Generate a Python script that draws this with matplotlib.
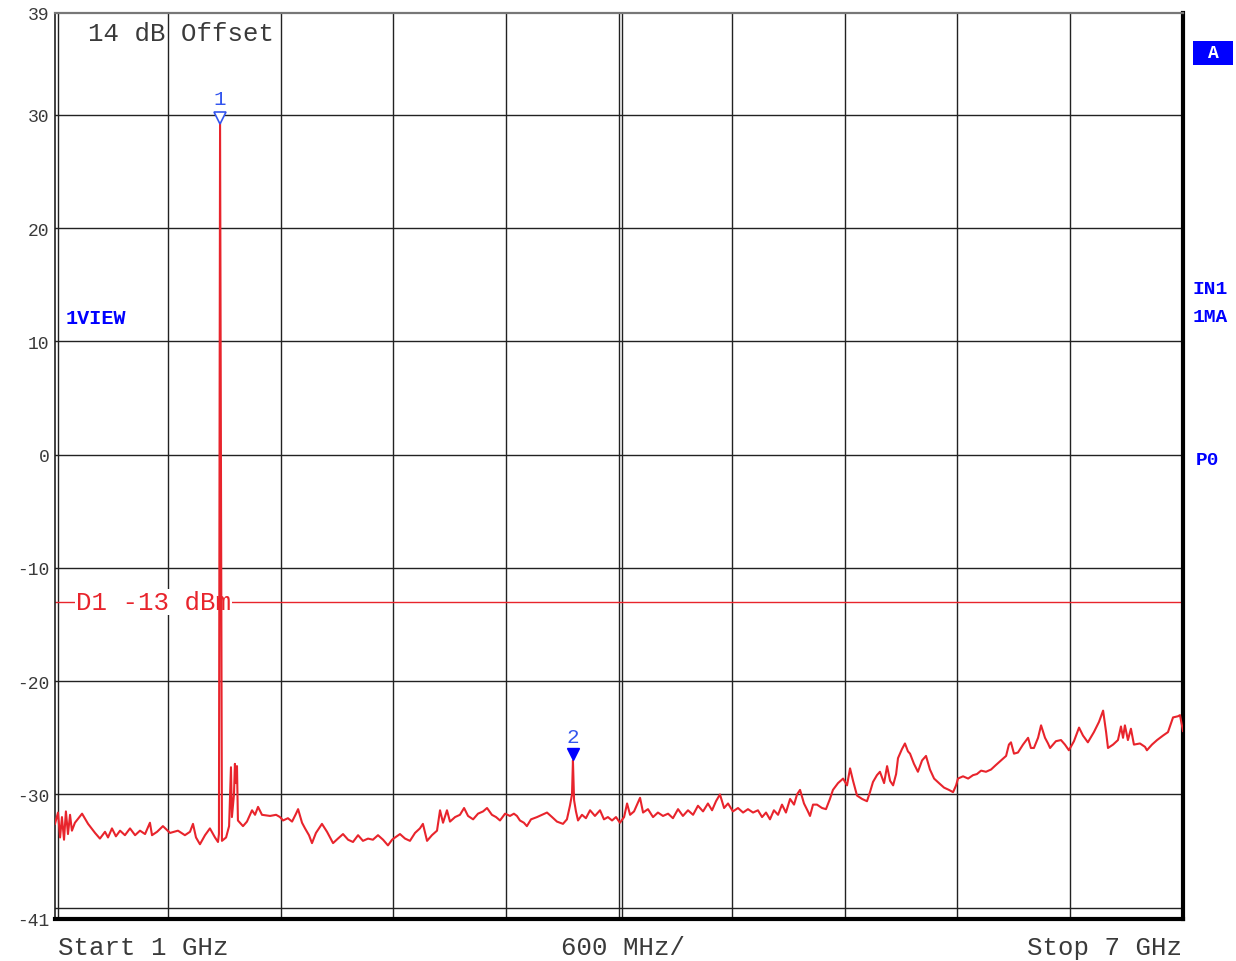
"""Спектр: трасса анализатора 1-7 ГГц с маркерами и линией D1."""

import numpy as np
import matplotlib
matplotlib.use("Agg")
import matplotlib.pyplot as plt
from matplotlib.patches import Rectangle

# частота, МГц
freq_mhz = [
    1000, 1016, 1027, 1037, 1048, 1058, 1069, 1080, 1090, 1106, 1144, 1176,
    1213, 1239, 1266, 1282, 1303, 1324, 1346, 1372, 1399, 1426, 1452, 1479,
    1505, 1516, 1543, 1574, 1612, 1654, 1691, 1718, 1734, 1750, 1771, 1798,
    1824, 1851, 1867, 1872, 1878, 1883, 1888, 1910, 1926, 1936, 1941, 1952,
    1957, 1963, 1968, 1973, 2000, 2021, 2048, 2064, 2080, 2101, 2144, 2176,
    2197, 2213, 2239, 2261, 2282, 2293, 2314, 2330, 2351, 2367, 2388, 2420,
    2447, 2479, 2505, 2532, 2559, 2585, 2612, 2638, 2665, 2691, 2718, 2745,
    2771, 2793, 2809, 2835, 2862, 2888, 2915, 2941, 2957, 2979, 3005, 3032,
    3048, 3064, 3085, 3101, 3128, 3154, 3176, 3197, 3224, 3250, 3277, 3298,
    3324, 3346, 3367, 3394, 3420, 3441, 3457, 3473, 3494, 3510, 3532, 3564,
    3590, 3617, 3644, 3670, 3702, 3723, 3739, 3750, 3755, 3761, 3771, 3782,
    3803, 3824, 3846, 3872, 3899, 3920, 3941, 3963, 3984, 4005, 4027, 4043,
    4059, 4080, 4112, 4128, 4154, 4181, 4207, 4234, 4261, 4287, 4314, 4340,
    4367, 4394, 4420, 4447, 4473, 4495, 4516, 4537, 4559, 4580, 4606, 4633,
    4660, 4686, 4713, 4739, 4761, 4782, 4803, 4824, 4846, 4867, 4888, 4910,
    4931, 4947, 4963, 4984, 5005, 5016, 5032, 5053, 5080, 5101, 5122, 5138,
    5165, 5192, 5213, 5229, 5245, 5266, 5293, 5319, 5335, 5351, 5372, 5388,
    5410, 5426, 5442, 5458, 5474, 5484, 5505, 5521, 5537, 5548, 5569, 5590,
    5612, 5633, 5654, 5676, 5702, 5729, 5755, 5777, 5793, 5803, 5830, 5857,
    5883, 5904, 5926, 5952, 5979, 6005, 6032, 6059, 6074, 6085, 6101, 6122,
    6149, 6176, 6191, 6207, 6229, 6245, 6266, 6282, 6293, 6324, 6351, 6372,
    6393, 6420, 6447, 6468, 6494, 6526, 6553, 6575, 6591, 6601, 6628, 6654,
    6670, 6681, 6691, 6707, 6723, 6739, 6771, 6798, 6808, 6835, 6862, 6894,
    6920, 6947, 6973, 6984, 7000,
]
# уровень, дБм
level_dbm = [
    -32.6, -31.6, -33.8, -32.0, -34.0, -31.5, -33.5, -31.8, -33.2, -32.5, -31.7, -32.6,
    -33.4, -33.9, -33.3, -33.8, -33.0, -33.7, -33.2, -33.6, -33.0, -33.6, -33.2, -33.5,
    -32.5, -33.6, -33.3, -32.8, -33.4, -33.2, -33.6, -33.3, -32.6, -33.8, -34.4, -33.6,
    -33.0, -33.8, -34.2, -33.5, 29.3, -2.7, -34.1, -33.8, -32.8, -27.6, -32.0, -30.0,
    -27.3, -29.0, -27.5, -32.3, -32.8, -32.4, -31.4, -31.8, -31.1, -31.8, -31.9, -31.8,
    -32.0, -32.3, -32.1, -32.4, -31.7, -31.3, -32.5, -33.0, -33.6, -34.3, -33.4, -32.6,
    -33.3, -34.3, -33.9, -33.5, -34.0, -34.2, -33.6, -34.1, -33.9, -34.0, -33.6, -34.0,
    -34.5, -34.0, -33.8, -33.5, -33.9, -34.1, -33.4, -33.0, -32.6, -34.1, -33.6, -33.2,
    -31.4, -32.5, -31.4, -32.4, -32.0, -31.8, -31.2, -31.9, -32.2, -31.7, -31.5, -31.2,
    -31.8, -32.0, -32.3, -31.7, -31.9, -31.7, -31.9, -32.3, -32.5, -32.8, -32.2, -32.0,
    -31.8, -31.6, -32.0, -32.4, -32.6, -32.2, -31.0, -30.0, -27.0, -30.5, -31.5, -32.3,
    -31.8, -32.1, -31.4, -31.9, -31.4, -32.2, -32.0, -32.3, -32.0, -32.5, -32.0, -30.8,
    -31.8, -31.5, -30.3, -31.6, -31.3, -32.0, -31.6, -31.9, -31.7, -32.1, -31.3, -31.9,
    -31.4, -31.8, -31.0, -31.5, -30.8, -31.4, -30.6, -30.0, -31.2, -30.8, -31.5, -31.2,
    -31.6, -31.3, -31.6, -31.4, -32.0, -31.6, -32.2, -31.4, -31.8, -30.9, -31.6, -30.4,
    -30.9, -30.0, -29.6, -30.8, -31.5, -31.9, -30.9, -30.9, -31.2, -31.3, -30.4, -29.6,
    -29.0, -28.6, -29.2, -27.7, -28.8, -30.1, -30.4, -30.6, -29.8, -28.9, -28.3, -28.0,
    -29.0, -27.5, -28.8, -29.2, -28.2, -26.8, -26.0, -25.5, -26.2, -26.4, -27.3, -28.0,
    -27.0, -26.6, -27.8, -28.6, -29.0, -29.4, -29.6, -29.8, -29.2, -28.6, -28.4, -28.6,
    -28.3, -28.2, -27.9, -28.0, -27.8, -27.4, -27.0, -26.6, -25.6, -25.4, -26.4, -26.3,
    -25.6, -25.0, -25.9, -25.9, -25.0, -23.9, -25.0, -25.5, -25.9, -25.3, -25.2, -25.6,
    -26.1, -25.3, -24.1, -24.8, -25.4, -24.5, -23.6, -22.6, -24.5, -25.9, -25.6, -25.2,
    -24.0, -25.0, -23.9, -25.2, -24.2, -25.6, -25.5, -25.8, -26.1, -25.6, -25.2, -24.8,
    -24.5, -23.2, -23.1, -23.0, -24.4,
]

marker_freq = [1878, 3755]
marker_level = [29.3, -27.0]
marker_names = ["1", "2"]

y_tick_values = [39, 30, 20, 10, 0, -10, -20, -30, -41]
grid_levels = [30, 20, 10, 0, -10, -20, -30, -40]
display_line = -13

W, H = 1236, 962
MONO = "Liberation Mono"
TRACE = "#e8242c"
BLUE = "#0000ff"
MARK_BLUE = "#3355ee"
TEXT = "#3a3a3a"


def fx(px):
    return px / W


def fy(py):
    return 1 - py / H


fig = plt.figure(figsize=(W / 100, H / 100), dpi=100)
ax = fig.add_axes([fx(55), fy(920), fx(1183) - fx(55), fy(14) - fy(920)])
ax.set_xlim(1000, 7000)
ax.set_ylim(-41, 39)

# сетка
for level in grid_levels:
    ax.axhline(level, color="#222222", lw=1.0, zorder=1)
for f in np.arange(1600, 7000, 600):
    ax.axvline(f, color="#222222", lw=1.0, zorder=1)
ax.axvline(4016, color="#222222", lw=1.0, zorder=1)
ax.axvline(1016, color="#222222", lw=1.0, zorder=1)

for side, width, color in [("left", 1.2, "#222222"), ("top", 1.6, "#777777"),
                           ("right", 3.0, "black"), ("bottom", 3.0, "black")]:
    ax.spines[side].set_linewidth(width)
    ax.spines[side].set_color(color)

ax.set_xticks([])
ax.set_yticks(y_tick_values)
ax.set_yticklabels([str(v) for v in y_tick_values], family=MONO,
                   fontsize=13, color=TEXT)
ax.tick_params(axis="y", length=0, pad=4)

# линия D1
ax.axhline(display_line, color=TRACE, lw=1.0, zorder=2)
ax.text(1000 + 6000 * 21 / 1128, display_line, "D1 -13 dBm", family=MONO,
        fontsize=18.5, color=TRACE, va="center", ha="left", zorder=3,
        bbox=dict(facecolor="white", edgecolor="none", pad=0.5))

ax.plot(freq_mhz, level_dbm, color=TRACE, lw=1.5, zorder=4)

# маркеры
ax.plot(marker_freq[0], marker_level[0] + 0.45, marker="v", ms=9,
        mfc="white", mec=MARK_BLUE, mew=1.2, zorder=5)
ax.plot(marker_freq[1], marker_level[1] + 0.55, marker="v", ms=9,
        mfc=BLUE, mec=BLUE, zorder=5)
for f, lvl, name in zip(marker_freq, marker_level, marker_names):
    ax.text(f, lvl + 1.3, name, family=MONO, fontsize=15, color=MARK_BLUE,
            ha="center", va="bottom", zorder=5)

ax.text(1000 + 6000 * 33 / 1128, 39 - 20 / 11.325, "14 dB Offset", family=MONO,
        fontsize=18.5, color=TEXT, ha="left", va="center", zorder=3)

# подписи снизу
fig.text(fx(58), fy(948), "Start 1 GHz", family=MONO, fontsize=18.5,
         color=TEXT, ha="left", va="center")
fig.text(fx(561), fy(948), "600 MHz/", family=MONO, fontsize=18.5,
         color=TEXT, ha="left", va="center")
fig.text(fx(1182), fy(948), "Stop 7 GHz", family=MONO, fontsize=18.5,
         color=TEXT, ha="right", va="center")

# служебные надписи прибора
fig.patches.append(Rectangle((fx(1193), fy(66)), fx(40), 24 / H,
                             transform=fig.transFigure, facecolor=BLUE,
                             edgecolor="none"))
fig.text(fx(1213), fy(54), "A", family=MONO, fontsize=13, weight="bold",
         color="white", ha="center", va="center")
fig.text(fx(66), fy(318), "1VIEW", family=MONO, fontsize=14.5, weight="bold",
         color=BLUE, ha="left", va="center")
fig.text(fx(1193), fy(289), "IN1", family=MONO, fontsize=14, weight="bold",
         color=BLUE, ha="left", va="center")
fig.text(fx(1193), fy(318), "1MA", family=MONO, fontsize=14, weight="bold",
         color=BLUE, ha="left", va="center")
fig.text(fx(1196), fy(461), "P0", family=MONO, fontsize=14, weight="bold",
         color=BLUE, ha="left", va="center")

fig.savefig("out.png", dpi=100)
